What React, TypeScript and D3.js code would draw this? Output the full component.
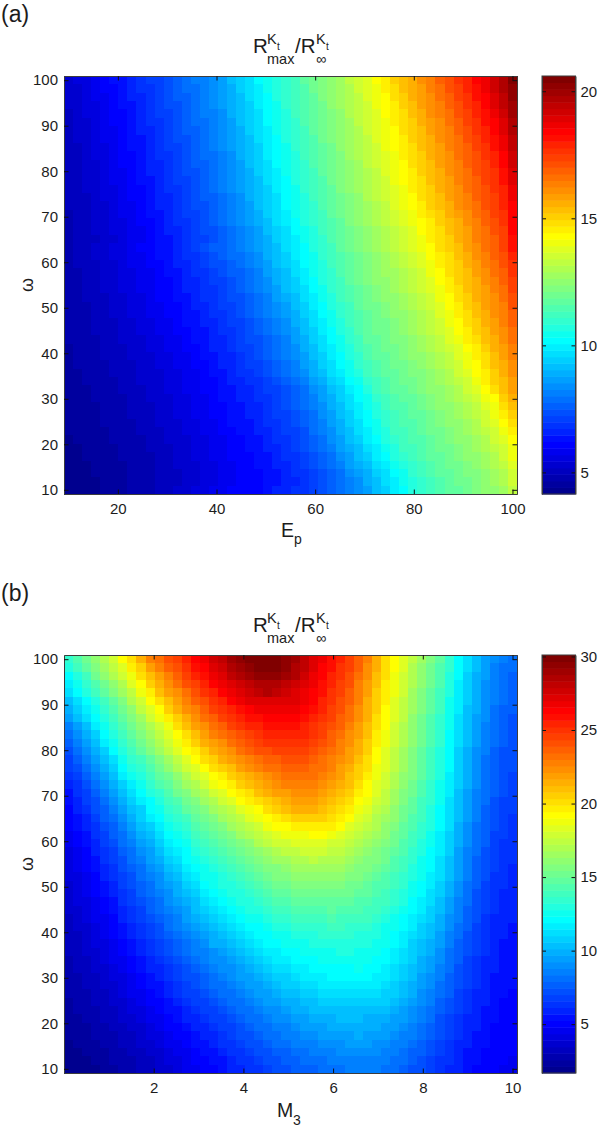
import { useEffect, useRef } from 'react';
import * as d3 from 'd3';

// Colour-map level (1-64) of every cell. First row is omega = 100.
const levelsA = [
  [5,6,6,7,8,9,9,10,11,12, 12,13,14,15,16,16,17,18,20,21, 22,24,25,26,27,28,30,31,32,33, 34,36,37,38,40,41,43,44,45,47, 48,50,51,53,54,56,57,59,61,64],
  [5,5,6,7,8,8,9,10,11,11, 12,13,14,15,15,16,17,18,19,21, 22,23,25,26,27,28,29,31,32,33, 34,35,37,38,39,41,42,44,45,46, 48,49,51,52,54,55,57,59,61,63],
  [5,5,6,7,7,8,9,10,10,11, 12,13,14,14,15,16,17,18,19,20, 22,23,24,26,27,28,29,30,32,33, 34,35,36,38,39,40,42,43,45,46, 47,49,50,52,53,55,56,58,60,63],
  [5,5,6,6,7,8,9,9,10,11, 12,13,13,14,15,16,17,18,19,20, 21,23,24,25,27,28,29,30,31,33, 34,35,36,37,39,40,41,43,44,46, 47,48,50,51,53,54,56,58,60,62],
  [4,5,6,6,7,8,8,9,10,11, 12,12,13,14,15,16,16,17,19,20, 21,22,24,25,26,28,29,30,31,32, 33,35,36,37,38,40,41,42,44,45, 47,48,49,51,52,54,55,57,59,62],
  [4,5,5,6,7,8,8,9,10,11, 11,12,13,14,15,15,16,17,18,20, 21,22,24,25,26,27,29,30,31,32, 33,34,36,37,38,39,41,42,43,45, 46,47,49,50,52,53,55,56,58,61],
  [4,5,5,6,7,7,8,9,10,10, 11,12,13,14,14,15,16,17,18,19, 21,22,23,25,26,27,28,30,31,32, 33,34,35,37,38,39,40,42,43,44, 46,47,48,50,51,53,54,56,58,61],
  [4,5,5,6,7,7,8,9,9,10, 11,12,13,13,14,15,16,17,18,19, 20,22,23,24,26,27,28,29,31,32, 33,34,35,36,38,39,40,41,43,44, 45,47,48,49,51,52,54,55,57,60],
  [4,4,5,6,6,7,8,9,9,10, 11,12,12,13,14,15,16,17,18,19, 20,21,23,24,25,27,28,29,30,31, 33,34,35,36,37,39,40,41,42,44, 45,46,48,49,50,52,53,55,57,60],
  [4,4,5,6,6,7,8,8,9,10, 11,11,12,13,14,15,15,16,17,19, 20,21,23,24,25,26,28,29,30,31, 32,34,35,36,37,38,39,41,42,43, 45,46,47,49,50,51,53,54,56,59],
  [4,4,5,5,6,7,8,8,9,10, 10,11,12,13,14,14,15,16,17,18, 20,21,22,24,25,26,27,29,30,31, 32,33,34,36,37,38,39,40,42,43, 44,46,47,48,50,51,52,54,56,59],
  [4,4,5,5,6,7,7,8,9,10, 10,11,12,13,13,14,15,16,17,18, 19,21,22,23,25,26,27,28,30,31, 32,33,34,35,36,38,39,40,41,43, 44,45,47,48,49,51,52,53,55,58],
  [4,4,5,5,6,7,7,8,9,9, 10,11,12,12,13,14,15,16,17,18, 19,20,22,23,24,26,27,28,29,31, 32,33,34,35,36,37,39,40,41,42, 44,45,46,48,49,50,52,53,55,58],
  [4,4,5,5,6,6,7,8,8,9, 10,11,11,12,13,14,15,16,17,18, 19,20,21,23,24,25,27,28,29,30, 32,33,34,35,36,37,38,39,41,42, 43,45,46,47,49,50,51,53,54,57],
  [4,4,4,5,6,6,7,8,8,9, 10,10,11,12,13,14,14,15,16,17, 19,20,21,22,24,25,26,28,29,30, 31,32,33,35,36,37,38,39,40,42, 43,44,46,47,48,50,51,52,54,57],
  [4,4,4,5,5,6,7,7,8,9, 10,10,11,12,13,13,14,15,16,17, 18,20,21,22,24,25,26,27,29,30, 31,32,33,34,35,36,38,39,40,41, 43,44,45,47,48,49,51,52,54,56],
  [3,4,4,5,5,6,7,7,8,9, 9,10,11,12,12,13,14,15,16,17, 18,19,21,22,23,25,26,27,28,30, 31,32,33,34,35,36,37,38,39,41, 42,43,45,46,47,49,50,52,53,56],
  [3,4,4,5,5,6,6,7,8,8, 9,10,11,11,12,13,14,15,16,17, 18,19,20,22,23,24,26,27,28,29, 30,32,33,34,35,36,37,38,39,40, 41,43,44,45,47,48,50,51,53,56],
  [3,4,4,5,5,6,6,7,7,8, 9,10,10,11,12,13,13,14,15,16, 17,18,20,21,22,24,25,26,28,29, 30,31,32,33,34,35,36,37,38,40, 41,42,44,45,46,48,49,51,52,56],
  [3,4,4,4,5,5,6,7,7,8, 9,9,10,11,12,12,13,14,15,16, 17,18,19,21,22,23,25,26,27,29, 30,31,32,33,34,35,36,37,38,39, 41,42,43,45,46,48,49,50,52,55],
  [3,4,4,5,5,6,6,7,8,8, 9,9,10,11,12,13,14,14,15,16, 17,18,19,20,22,23,24,26,27,28, 30,31,32,33,34,35,36,37,38,39, 40,42,43,44,46,47,49,50,52,55],
  [3,4,4,5,5,6,6,7,7,8, 9,9,10,11,11,12,13,14,15,15, 16,17,19,20,21,23,24,25,27,28, 29,30,31,32,33,34,35,36,37,38, 40,41,42,44,45,47,48,50,51,54],
  [3,4,4,4,5,5,6,7,7,8, 8,9,10,10,11,12,13,13,14,15, 16,17,18,20,21,22,24,25,26,28, 29,30,31,32,33,34,35,36,37,38, 39,41,42,43,45,46,48,49,51,53],
  [3,3,4,4,5,5,6,6,7,7, 8,9,9,10,11,11,12,13,14,14, 15,16,18,19,20,22,23,25,26,27, 29,30,31,32,33,34,34,35,36,37, 39,40,42,43,44,46,47,49,50,53],
  [3,3,4,4,5,5,6,6,7,7, 8,8,9,10,10,11,12,12,13,14, 15,16,17,19,20,21,23,24,26,27, 28,30,31,32,33,33,34,35,36,37, 38,40,41,43,44,45,47,48,50,52],
  [3,3,4,4,5,5,6,6,7,7, 8,8,9,10,10,11,11,12,13,14, 15,16,17,18,20,21,22,24,25,27, 28,29,30,31,32,33,34,35,36,37, 38,39,41,42,44,45,46,48,49,52],
  [3,3,4,4,4,5,5,6,6,7, 8,8,9,9,10,11,11,12,13,13, 14,15,16,18,19,20,22,23,25,26, 28,29,30,31,32,33,33,34,35,36, 37,39,40,42,43,45,46,47,49,51],
  [3,3,3,4,4,5,5,6,6,7, 7,8,8,9,10,10,11,12,12,13, 14,15,16,17,18,20,21,23,24,26, 27,28,30,31,31,32,33,34,35,36, 37,38,40,41,43,44,46,47,48,51],
  [3,3,3,4,4,5,5,6,6,7, 7,8,8,9,9,10,11,11,12,13, 14,15,16,17,18,19,21,22,24,25, 27,28,29,30,31,32,33,33,34,35, 36,38,39,41,42,44,45,47,48,50],
  [3,3,3,4,4,4,5,5,6,6, 7,7,8,9,9,10,10,11,12,12, 13,14,15,16,17,19,20,22,23,25, 26,28,29,30,31,31,32,33,34,35, 36,37,39,40,42,43,45,46,48,50],
  [3,3,3,4,4,4,5,5,6,6, 7,7,8,8,9,9,10,11,11,12, 13,14,15,16,17,18,20,21,23,24, 26,27,29,30,31,31,32,33,34,35, 36,37,38,40,41,43,44,46,47,49],
  [3,3,3,3,4,4,5,5,5,6, 6,7,7,8,9,9,10,10,11,12, 13,13,14,15,16,18,19,21,22,24, 25,27,28,30,30,31,32,32,33,34, 35,36,38,39,41,42,44,45,47,49],
  [2,3,3,3,4,4,4,5,5,6, 6,7,7,8,8,9,10,10,11,12, 12,13,14,15,16,17,19,20,22,23, 25,26,28,29,30,31,31,32,33,34, 35,36,37,38,40,41,43,45,46,48],
  [2,3,3,3,4,4,4,5,5,5, 6,6,7,7,8,9,9,10,10,11, 12,13,14,15,16,17,18,20,21,23, 24,26,27,29,30,30,31,32,33,33, 34,35,36,38,39,41,42,44,46,48],
  [2,3,3,3,3,4,4,4,5,5, 6,6,7,7,8,8,9,10,10,11, 12,12,13,14,15,16,18,19,21,22, 24,25,27,28,29,30,31,31,32,33, 34,35,36,37,39,40,42,44,45,47],
  [2,2,3,3,3,4,4,4,5,5, 5,6,6,7,7,8,9,9,10,11, 11,12,13,14,15,16,17,19,20,22, 23,25,26,28,29,30,30,31,32,32, 33,34,35,37,38,40,41,43,45,47],
  [2,2,3,3,3,3,4,4,5,5, 5,6,6,7,7,8,8,9,10,10, 11,11,12,13,14,15,16,18,19,21, 22,24,25,27,28,29,30,31,31,32, 33,34,35,36,37,39,41,43,44,46],
  [2,2,2,3,3,3,4,4,4,5, 5,6,6,7,7,8,8,9,9,10, 10,11,12,12,13,14,15,17,18,20, 21,23,24,26,28,29,30,30,31,32, 33,33,34,35,37,38,40,42,44,46],
  [2,2,2,3,3,3,3,4,4,5, 5,5,6,6,7,7,8,9,9,10, 10,11,11,12,13,14,15,16,18,19, 21,22,24,25,27,28,29,30,30,31, 32,33,34,35,36,37,39,40,43,45],
  [2,2,2,2,3,3,3,4,4,4, 5,5,6,6,7,7,8,8,9,9, 10,10,11,12,13,14,15,16,17,19, 20,22,23,25,26,28,29,29,30,31, 32,33,33,34,35,36,38,39,42,44],
  [2,2,2,2,3,3,3,4,4,4, 5,5,6,6,7,7,8,8,9,9, 10,10,11,12,12,13,14,15,17,18, 20,21,23,24,26,27,28,29,30,30, 31,32,33,34,35,36,37,39,41,43],
  [2,2,2,2,3,3,3,3,4,4, 5,5,5,6,6,7,7,8,9,9, 9,10,11,11,12,13,14,15,16,18, 19,21,22,24,25,27,28,29,29,30, 31,32,33,33,34,35,37,38,40,42],
  [2,2,2,2,2,3,3,3,4,4, 4,5,5,6,6,7,7,8,8,9, 9,10,10,11,12,12,13,15,16,17, 19,20,22,23,25,26,28,28,29,30, 31,31,32,33,34,35,36,37,39,41],
  [1,2,2,2,2,3,3,3,3,4, 4,5,5,5,6,6,7,7,8,8, 9,9,10,11,11,12,13,14,15,17, 18,20,21,23,24,26,27,28,29,29, 30,31,32,33,33,34,35,37,38,40],
  [1,1,2,2,2,2,3,3,3,4, 4,4,5,5,6,6,7,7,8,8, 9,9,10,10,11,12,13,14,15,16, 18,19,20,22,23,25,26,28,28,29, 30,31,31,32,33,34,35,36,37,39],
  [1,1,2,2,2,2,3,3,3,3, 4,4,5,5,6,6,7,7,8,8, 8,9,9,10,11,11,12,13,14,15, 17,18,20,21,23,24,26,27,28,29, 30,30,31,32,33,33,34,35,37,39],
  [1,1,1,2,2,2,2,3,3,3, 4,4,5,5,5,6,6,7,7,8, 8,9,9,10,10,11,12,13,14,15, 16,18,19,20,22,23,25,26,27,28, 29,30,31,31,32,33,34,35,36,38],
  [1,1,1,2,2,2,2,3,3,3, 4,4,4,5,5,6,6,7,7,8, 8,8,9,9,10,11,11,12,13,14, 15,17,18,19,21,22,24,25,27,28, 29,30,30,31,32,32,33,34,35,37],
  [1,1,1,1,2,2,2,3,3,3, 4,4,4,5,5,6,6,7,7,8, 8,8,9,9,10,10,11,12,13,14, 15,16,17,19,20,22,23,25,26,27, 28,29,30,31,31,32,33,34,35,37],
  [1,1,1,1,2,2,2,3,3,3, 4,4,5,5,6,6,7,7,8,8, 8,8,9,10,10,11,11,12,13,14, 15,16,17,18,20,21,23,24,26,27, 28,29,30,30,31,32,33,33,34,36],
];

const levelsB = [
  [27,29,31,33,35,37,40,42,45,48, 49,51,52,54,56,57,59,60,62,63, 64,64,64,64,63,62,60,58,57,55, 54,52,50,48,45,42,40,38,36,34, 32,30,27,24,22,20,18,17,16,15],
  [26,28,30,32,34,36,38,41,43,46, 48,50,51,53,55,56,58,59,61,62, 63,64,64,64,63,61,60,58,56,55, 53,52,50,47,45,42,40,38,35,33, 31,29,27,24,22,20,18,16,15,15],
  [24,26,28,31,33,35,37,39,42,44, 46,48,50,52,54,55,57,58,60,61, 62,63,63,63,62,61,59,57,56,54, 53,51,49,47,44,42,39,37,35,33, 31,29,26,24,21,19,18,16,15,14],
  [23,25,27,29,31,33,35,38,40,43, 45,47,49,51,52,54,56,57,58,59, 60,61,61,61,60,59,58,57,55,54, 52,51,48,46,44,41,39,37,35,33, 31,29,26,23,21,19,17,16,15,14],
  [22,24,26,28,30,32,34,36,39,41, 44,46,47,49,51,53,54,56,57,58, 59,60,61,60,59,58,57,56,55,53, 52,50,48,46,43,41,39,37,34,32, 30,28,26,23,21,19,17,16,15,14],
  [20,22,24,26,28,30,32,35,37,40, 42,44,46,48,50,51,53,54,56,57, 58,58,58,58,58,58,57,56,54,53, 51,50,48,45,43,41,38,36,34,32, 30,28,25,23,21,19,17,16,15,14],
  [19,21,23,25,27,29,31,33,36,38, 40,43,45,47,48,50,52,53,54,55, 56,57,57,57,57,57,56,55,54,52, 51,49,47,45,43,40,38,36,34,32, 30,28,25,23,20,19,17,15,14,14],
  [18,20,22,24,26,28,30,32,34,37, 39,41,43,45,47,49,50,52,53,54, 55,55,56,56,56,56,55,54,53,52, 50,49,47,45,42,40,38,36,33,31, 29,27,25,22,20,18,17,15,14,13],
  [16,18,20,23,25,27,29,31,33,35, 37,39,42,44,46,47,49,50,52,53, 54,54,55,55,55,55,54,53,52,51, 50,48,46,44,42,40,37,35,33,31, 29,27,25,22,20,18,16,15,14,13],
  [15,17,19,21,24,26,28,30,32,34, 36,38,40,42,44,46,48,49,50,51, 52,53,54,54,54,54,54,53,52,50, 49,47,46,44,41,39,37,35,33,31, 29,27,24,22,20,18,16,15,14,13],
  [14,16,18,20,23,25,27,29,31,33, 35,37,39,41,43,45,46,47,49,50, 51,52,53,53,53,53,53,52,51,50, 48,47,45,43,41,39,37,35,33,31, 29,27,24,22,20,18,16,15,14,13],
  [13,15,17,19,21,24,26,28,30,32, 34,36,38,40,41,43,45,46,47,49, 50,51,51,52,52,52,52,51,50,49, 48,46,45,43,40,38,36,34,32,30, 28,26,24,21,19,17,16,14,13,13],
  [12,14,16,18,20,22,25,27,28,30, 32,34,36,38,40,42,43,45,46,47, 48,49,50,50,51,51,51,50,49,48, 47,46,44,42,40,38,36,34,32,30, 28,26,24,21,19,17,15,14,13,13],
  [12,13,15,17,19,21,24,26,27,29, 31,33,35,37,38,40,42,43,44,46, 47,48,49,49,50,50,50,49,49,48, 46,45,43,42,39,38,36,34,32,30, 28,26,24,21,19,17,15,14,13,13],
  [11,12,14,16,18,20,23,25,26,28, 30,31,33,35,37,38,40,41,43,44, 45,46,47,48,49,49,49,49,48,47, 46,44,43,41,39,37,35,33,32,30, 28,26,23,21,19,17,15,14,13,12],
  [10,11,13,15,17,19,21,23,25,27, 29,30,32,34,35,37,39,40,41,43, 44,45,46,47,48,48,48,48,47,46, 45,44,42,40,38,37,35,33,31,29, 27,25,23,21,19,17,15,14,13,12],
  [9,11,12,14,16,18,20,22,24,26, 27,29,31,32,34,35,37,38,40,41, 42,44,45,46,46,47,47,47,46,45, 44,43,41,40,38,36,34,32,31,29, 27,25,23,20,18,16,15,14,13,12],
  [9,10,12,13,15,17,19,21,23,24, 26,28,29,31,32,34,35,37,38,40, 41,42,43,44,45,46,46,46,45,44, 43,42,40,39,37,36,34,32,30,28, 27,25,22,20,18,16,15,13,12,12],
  [8,10,11,13,14,16,18,20,21,24, 25,27,28,30,31,32,34,35,36,38, 39,40,42,43,44,45,45,45,44,43, 42,41,39,38,36,35,33,31,30,28, 26,24,22,20,18,16,14,13,12,12],
  [8,9,10,12,14,15,17,19,21,23, 24,26,27,28,30,31,32,34,35,36, 38,39,40,41,42,43,43,43,43,42, 41,40,38,37,35,34,33,31,29,28, 26,24,22,20,18,16,14,13,12,11],
  [8,9,10,11,13,14,16,18,20,21, 23,25,26,27,29,30,31,32,34,35, 36,37,39,40,40,41,41,41,41,41, 40,38,37,36,35,33,32,30,29,27, 26,24,22,19,17,15,14,13,12,11],
  [7,8,9,11,12,14,15,17,19,20, 22,24,25,26,28,29,30,31,32,34, 35,36,37,38,39,39,39,40,40,39, 38,37,36,35,34,33,31,30,28,27, 25,23,21,19,17,15,14,12,12,11],
  [7,8,9,10,12,13,15,16,18,19, 21,23,24,25,27,28,29,30,31,32, 33,35,36,37,37,38,38,38,38,37, 37,36,35,34,33,32,31,29,28,26, 25,23,21,19,17,15,14,12,11,11],
  [6,7,8,10,11,12,14,15,17,18, 20,22,23,24,26,27,28,29,30,31, 32,33,34,35,36,36,37,37,37,36, 36,35,34,33,32,31,30,29,27,26, 24,23,21,18,16,15,13,12,11,11],
  [6,7,8,9,11,12,13,15,16,18, 19,21,22,24,25,26,27,28,29,30, 31,32,33,34,34,35,35,36,35,35, 35,34,33,32,32,31,29,28,27,25, 24,22,20,18,16,14,13,12,11,11],
  [6,7,8,9,10,11,13,14,15,17, 18,20,21,23,24,25,26,27,28,29, 30,31,32,32,33,34,34,34,34,34, 34,33,32,32,31,30,29,28,26,25, 24,22,20,18,16,14,13,12,11,10],
  [6,6,7,8,10,11,12,13,15,16, 17,19,20,22,23,25,25,26,27,28, 29,30,31,32,32,33,33,33,33,33, 33,32,32,31,30,29,28,27,26,25, 23,22,20,18,16,14,13,11,11,10],
  [5,6,7,8,9,10,12,13,14,15, 17,18,19,21,22,24,25,26,26,27, 28,29,30,31,31,32,32,32,32,32, 32,31,31,30,29,29,28,27,25,24, 23,21,19,17,15,14,12,11,11,10],
  [5,6,7,8,9,10,11,12,14,15, 16,17,19,20,21,23,24,25,26,26, 27,28,29,30,30,31,31,31,31,31, 31,31,30,30,29,28,27,26,25,24, 22,21,19,17,15,13,12,11,10,10],
  [5,6,6,7,8,9,11,12,13,14, 15,17,18,19,20,22,23,24,25,26, 26,27,28,29,29,30,30,30,30,30, 30,30,29,29,28,28,27,26,24,23, 22,20,18,16,15,13,12,11,10,10],
  [5,5,6,7,8,9,10,11,12,14, 15,16,17,18,20,21,22,23,24,25, 26,26,27,28,28,29,29,29,29,30, 29,29,29,28,28,27,26,25,24,23, 21,20,18,16,14,13,12,11,10,10],
  [4,5,6,7,7,8,10,11,12,13, 14,15,16,18,19,20,21,22,23,24, 25,25,26,27,27,28,28,28,28,29, 28,28,28,28,27,26,25,24,23,22, 21,19,17,16,14,13,11,10,10,10],
  [4,5,5,6,7,8,9,10,11,12, 13,15,16,17,18,19,20,21,22,23, 24,24,25,26,26,27,27,27,27,28, 28,27,27,27,26,25,25,24,23,21, 20,19,17,15,14,12,11,10,10,9],
  [4,4,5,6,7,8,9,10,11,12, 13,14,15,16,17,18,19,20,21,22, 23,24,24,25,25,26,26,26,27,27, 27,27,26,26,26,25,24,23,22,21, 20,18,16,15,13,12,11,10,10,9],
  [4,4,5,6,6,7,8,9,10,11, 12,13,14,15,16,17,19,19,20,21, 22,23,24,24,25,25,25,26,26,26, 26,26,26,26,25,25,24,23,21,20, 19,18,16,14,13,12,11,10,9,9],
  [4,4,5,5,6,7,8,9,10,11, 12,13,14,15,16,16,17,18,19,20, 21,22,23,23,24,24,25,25,25,25, 26,26,25,25,25,24,23,22,21,20, 19,17,15,14,13,12,11,10,9,9],
  [3,4,4,5,6,7,7,8,9,10, 11,12,13,14,15,16,17,17,18,19, 20,21,22,23,23,24,24,24,25,25, 25,25,25,25,24,24,23,22,21,19, 18,17,15,14,12,11,10,10,9,9],
  [3,4,4,5,5,6,7,8,9,10, 10,11,12,13,14,15,16,17,17,18, 19,20,21,22,22,23,23,24,24,24, 24,24,25,24,24,23,22,21,20,19, 18,16,15,13,12,11,10,10,9,9],
  [3,3,4,4,5,6,6,7,8,9, 10,11,12,13,13,14,15,16,17,18, 18,19,20,21,21,22,23,23,23,24, 24,24,24,24,23,23,22,21,20,18, 17,16,14,13,12,11,10,9,9,9],
  [3,3,4,4,5,5,6,7,8,9, 9,10,11,12,13,14,15,15,16,17, 18,18,19,20,21,21,22,22,23,23, 23,23,23,23,23,22,21,20,19,18, 17,15,14,13,12,11,10,9,9,9],
  [3,3,3,4,4,5,6,7,7,8, 9,10,11,12,12,13,14,15,15,16, 17,18,18,19,20,20,21,21,22,22, 22,22,22,22,22,21,21,20,19,17, 16,15,14,12,11,10,10,9,9,8],
  [2,3,3,4,4,5,5,6,7,8, 8,9,10,11,12,12,13,14,15,15, 16,17,18,18,19,19,20,20,21,21, 21,21,21,21,21,21,20,19,18,17, 16,14,13,12,11,10,10,9,8,8],
  [2,3,3,3,4,4,5,6,6,7, 8,9,9,10,11,12,12,13,14,15, 15,16,17,17,18,19,19,20,20,20, 20,20,20,20,20,20,19,18,17,16, 15,14,13,12,11,10,9,9,8,8],
  [2,2,3,3,4,4,5,5,6,7, 7,8,9,10,10,11,12,12,13,14, 15,15,16,17,17,18,18,19,19,19, 20,20,20,19,19,19,18,18,17,16, 15,13,12,11,10,10,9,9,8,8],
  [2,2,2,3,3,4,4,5,5,6, 7,8,8,9,10,10,11,12,12,13, 14,15,15,16,16,17,18,18,18,19, 19,19,19,19,19,18,18,17,16,15, 14,13,12,11,10,10,9,8,8,8],
  [2,2,2,3,3,3,4,4,5,6, 6,7,8,8,9,10,10,11,12,13, 13,14,15,15,16,16,17,17,18,18, 18,18,19,18,18,18,17,16,16,15, 14,13,12,11,10,9,9,8,8,8],
  [1,2,2,2,3,3,4,4,5,5, 6,7,7,8,9,9,10,11,11,12, 13,13,14,15,15,16,16,16,17,17, 17,18,18,18,17,17,16,16,15,14, 13,12,11,10,10,9,9,8,8,8],
  [1,1,2,2,2,3,3,4,4,5, 5,6,7,7,8,9,9,10,11,11, 12,13,13,14,14,15,15,16,16,16, 17,17,17,17,17,16,16,15,14,14, 13,12,11,10,9,9,8,8,8,8],
  [1,1,1,2,2,3,3,3,4,4, 5,6,6,7,8,8,9,9,10,11, 11,12,13,13,14,14,15,15,15,16, 16,16,16,16,16,16,15,15,14,13, 12,11,11,10,9,9,8,8,8,7],
  [1,1,1,1,2,2,3,3,4,4, 5,5,6,7,7,8,8,9,10,10, 11,11,12,13,13,14,14,14,15,15, 15,16,16,16,16,15,15,14,13,13, 12,11,10,10,9,8,8,8,7,7],
];

const xTicksA = [20, 40, 60, 80, 100];
const xTicksB = [2, 4, 6, 8, 10];
const omegaTicks = [10, 20, 30, 40, 50, 60, 70, 80, 90, 100];
const barTicksA = [5, 10, 15, 20];
const barTicksB = [5, 10, 15, 20, 25, 30];

// MATLAB jet with 64 steps
const jet = d3.scaleLinear<string>()
  .domain([1, 8, 24, 40, 56, 64])
  .range(['#00008f', '#0000ff', '#00ffff', '#ffff00', '#ff0000', '#800000']);

const frameColor = '#3c3c3c';
const textColor = '#1c1c1c';
const fontFamily = '"Liberation Sans", Arial, sans-serif';

const left = 64;
const right = 517;
const barLeft = 542;
const barRight = 575.5;

const styleAxis = (g) => {
  g.select('.domain').attr('stroke', frameColor).attr('stroke-width', 1);
  g.selectAll('.tick line').attr('stroke', '#111').attr('stroke-width', 1);
  g.selectAll('text')
    .attr('fill', textColor)
    .style('font-family', fontFamily)
    .style('font-size', '15px');
};

const drawPanel = (svg, opt) => {
  const { top, bottom, levels, xDomain, xTicks, barDomain, barTicks } = opt;

  const col = d3.scaleBand().domain(d3.range(levels[0].length)).range([left, right]);
  const row = d3.scaleBand().domain(d3.range(levels.length)).range([top, bottom]);
  const x = d3.scaleLinear().domain(xDomain).range([left, right]);
  const y = d3.scaleLinear().domain([9.08, 100.92]).range([bottom, top]);
  const barY = d3.scaleLinear().domain(barDomain).range([bottom, top]);

  // Cells
  const cells = svg.append('g').attr('filter', 'url(#soft)');
  levels.forEach((values, r) => {
    cells.selectAll(null)
      .data(values)
      .join('rect')
      .attr('x', (d, c) => col(c))
      .attr('y', row(r))
      .attr('width', col.bandwidth() + 0.5)
      .attr('height', row.bandwidth() + 0.5)
      .attr('fill', d => jet(d))
      .attr('shape-rendering', 'crispEdges');
  });

  // Box with inward ticks on all four sides
  svg.append('g')
    .attr('transform', `translate(0,${bottom})`)
    .call(d3.axisBottom(x).tickValues(xTicks).tickSizeInner(-4.5).tickSizeOuter(0).tickPadding(9))
    .call(styleAxis);
  svg.append('g')
    .attr('transform', `translate(0,${top})`)
    .call(d3.axisTop(x).tickValues(xTicks).tickSizeInner(-4.5).tickSizeOuter(0).tickFormat(''))
    .call(styleAxis);
  svg.append('g')
    .attr('transform', `translate(${left},0)`)
    .call(d3.axisLeft(y).tickValues(omegaTicks).tickSizeInner(-4.5).tickSizeOuter(0).tickPadding(6))
    .call(styleAxis);
  svg.append('g')
    .attr('transform', `translate(${right},0)`)
    .call(d3.axisRight(y).tickValues(omegaTicks).tickSizeInner(-4.5).tickSizeOuter(0).tickFormat(''))
    .call(styleAxis);

  // Colour bar
  const step = (barDomain[1] - barDomain[0]) / 64;
  const bar = svg.append('g').attr('filter', 'url(#soft)');
  bar.selectAll('rect')
    .data(d3.range(1, 65))
    .join('rect')
    .attr('x', barLeft)
    .attr('width', barRight - barLeft)
    .attr('y', d => barY(barDomain[0] + d * step))
    .attr('height', d => barY(barDomain[0] + (d - 1) * step) - barY(barDomain[0] + d * step) + 0.5)
    .attr('fill', d => jet(d));
  svg.append('g')
    .attr('transform', `translate(${barRight},0)`)
    .call(d3.axisRight(barY).tickValues(barTicks).tickSizeInner(-4).tickSizeOuter(0).tickPadding(5))
    .call(styleAxis);
  svg.append('g')
    .attr('transform', `translate(${barLeft},0)`)
    .call(d3.axisLeft(barY).tickValues(barTicks).tickSizeInner(-4).tickSizeOuter(0).tickFormat(''))
    .call(styleAxis);
  svg.append('rect')
    .attr('x', barLeft).attr('y', top)
    .attr('width', barRight - barLeft).attr('height', bottom - top)
    .attr('fill', 'none').attr('stroke', frameColor);
};

const Title = ({ top }) => {
  const base = top - 23;
  return (
    <g fill={textColor} fontFamily={fontFamily}>
      <text x={253} y={base} fontSize={20.5}>R</text>
      <text x={267} y={base - 9} fontSize={14.5}>K</text>
      <text x={277} y={base - 3} fontSize={10}>t</text>
      <text x={267} y={base + 10.5} fontSize={14.5}>max</text>
      <text x={295} y={base} fontSize={20.5}>/R</text>
      <text x={316} y={base - 9} fontSize={14.5}>K</text>
      <text x={326} y={base - 3} fontSize={10}>t</text>
      <text x={316} y={base + 10.5} fontSize={14.5}>∞</text>
    </g>
  );
};

const App = () => {
  const svgRef = useRef(null);

  useEffect(() => {
    const svg = d3.select(svgRef.current).select('g.plots');
    svg.selectAll('*').remove();

    drawPanel(svg, {
      top: 76, bottom: 494, levels: levelsA,
      xDomain: [9.08, 100.92], xTicks: xTicksA,
      barDomain: [4.15, 20.6], barTicks: barTicksA,
    });
    drawPanel(svg, {
      top: 655, bottom: 1073, levels: levelsB,
      xDomain: [0, 10.1], xTicks: xTicksB,
      barDomain: [1.68, 30.1], barTicks: barTicksB,
    });
  }, []);

  return (
    <svg ref={svgRef} width={600} height={1129}
      style={{ position: 'absolute', left: 0, top: 0, background: '#fff' }}>
      <defs>
        <filter id="soft" x="0" y="0" width="100%" height="100%">
          <feGaussianBlur stdDeviation="0.4" />
        </filter>
      </defs>
      <g className="plots" />

      <g fill={textColor} fontFamily={fontFamily}>
        <text x={1} y={22} fontSize={23}>(a)</text>
        <text x={1} y={601} fontSize={23}>(b)</text>

        <text x={281} y={537} fontSize={19.5}>E</text>
        <text x={294} y={544} fontSize={14}>p</text>
        <text x={277} y={1117} fontSize={19.5}>M</text>
        <text x={293} y={1125} fontSize={14}>3</text>

        <text transform="translate(33,285) rotate(-90)" textAnchor="middle" fontSize={18}>ω</text>
        <text transform="translate(33,864) rotate(-90)" textAnchor="middle" fontSize={18}>ω</text>
      </g>
      <Title top={76} />
      <Title top={655} />
    </svg>
  );
};

export default App;
